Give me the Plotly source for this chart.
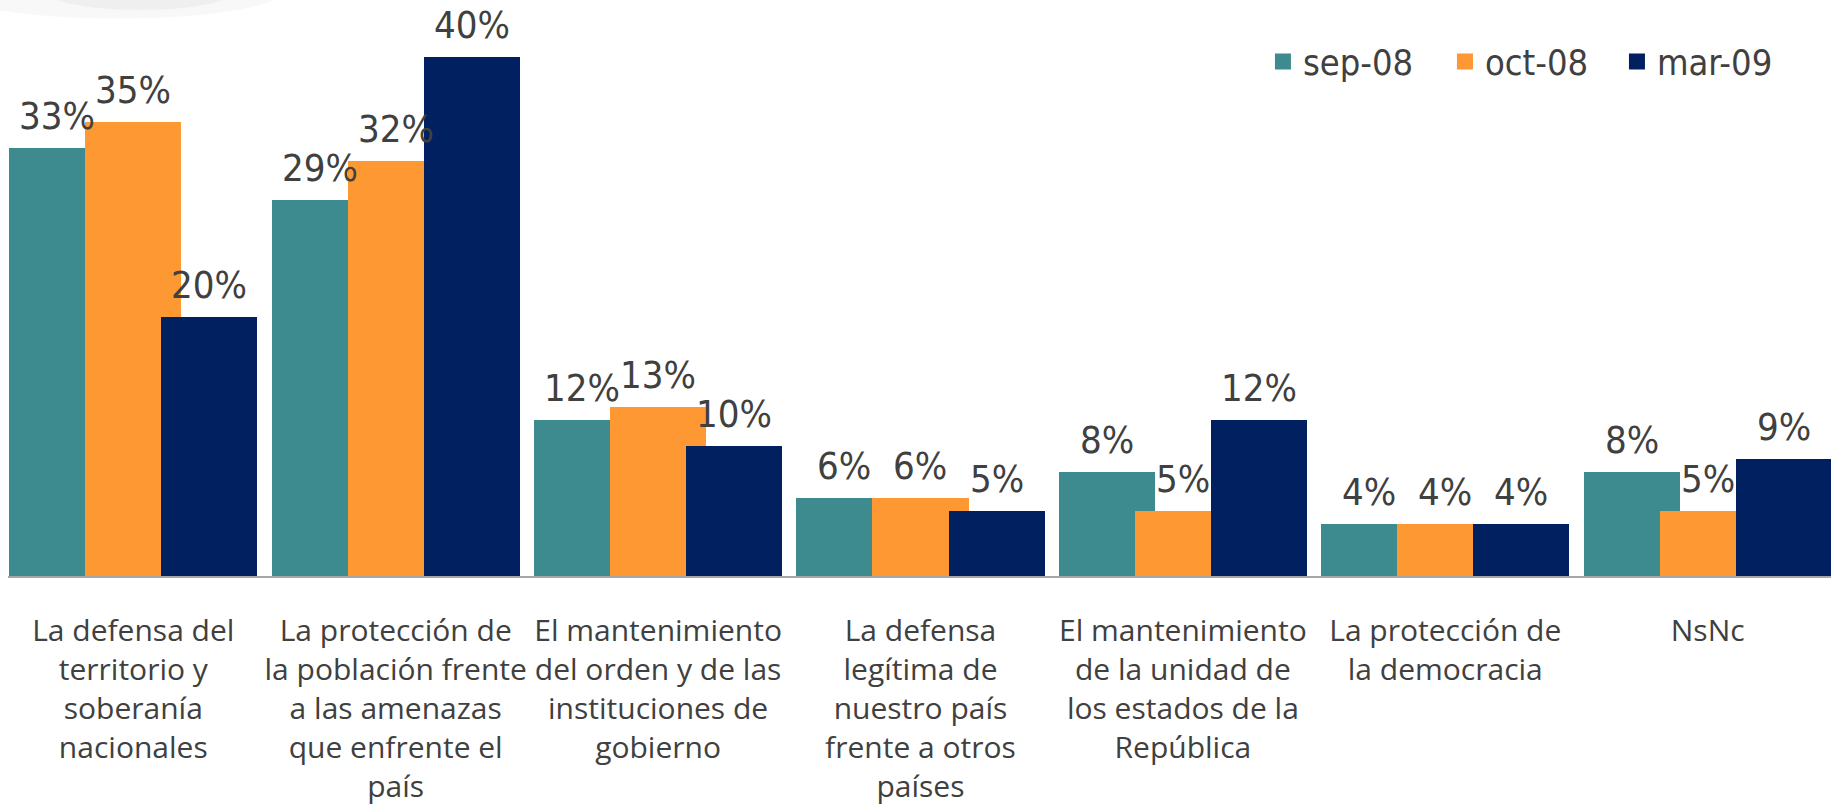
import plotly.graph_objects as go

categories = [
    "La defensa del<br>territorio y<br>soberanía<br>nacionales",
    "La protección de<br>la población frente<br>a las amenazas<br>que enfrente el<br>país",
    "El mantenimiento<br>del orden y de las<br>instituciones de<br>gobierno",
    "La defensa<br>legítima de<br>nuestro país<br>frente a otros<br>países",
    "El mantenimiento<br>de la unidad de<br>los estados de la<br>República",
    "La protección de<br>la democracia",
    "NsNc",
]
series_names = ["sep-08", "oct-08", "mar-09"]
sep08 = [33, 29, 12, 6, 8, 4, 8]
oct08 = [35, 32, 13, 6, 5, 4, 5]
mar09 = [20, 40, 10, 5, 12, 4, 9]

colors = ["#3D8B8F", "#FD9833", "#002060"]
bar_width = 0.366
offsets = [-0.473, -0.183, 0.107]
legend_widths = [137, 127, 130]

xs = list(range(len(categories)))
fig = go.Figure()
annotations = []
for name, vals, col, off, lw in zip(series_names, [sep08, oct08, mar09], colors, offsets, legend_widths):
    fig.add_trace(go.Bar(
        x=xs, y=vals, name=name, width=bar_width, offset=off,
        marker=dict(color=col, line=dict(width=0)),
        showlegend=False, hoverinfo="y",
    ))
    for xi, v in zip(xs, vals):
        annotations.append(dict(
            x=xi + off + bar_width / 2, y=v, xref="x", yref="y",
            text=f"{v}%", showarrow=False, yanchor="bottom", xanchor="center",
            yshift=8, font=dict(family="DejaVu Sans Condensed", size=38, color="#404040"),
        ))
    # legend entry
    fig.add_trace(go.Scatter(
        x=[None], y=[None], mode="markers", name=name,
        marker=dict(symbol="square", size=20, color=col),
        showlegend=True, legendwidth=lw,
    ))

# faint decorative swoosh at top-left
shapes = [
    dict(type="circle", xref="paper", yref="paper", x0=-0.03, x1=0.15, y0=0.985, y1=1.08,
         fillcolor="rgba(200,200,200,0.12)", line=dict(width=0), layer="below"),
    dict(type="circle", xref="paper", yref="paper", x0=0.02, x1=0.125, y0=1.0, y1=1.07,
         fillcolor="rgba(185,185,185,0.12)", line=dict(width=0), layer="below"),
]

fig.update_layout(
    width=1831, height=806,
    margin=dict(l=8, r=0, t=10, b=224),
    paper_bgcolor="white", plot_bgcolor="white",
    barmode="overlay",
    bargap=0,
    annotations=annotations,
    shapes=shapes,
    showlegend=True,
    legend=dict(
        orientation="h", x=0.6884, y=0.962, xanchor="left", yanchor="top",
        font=dict(family="DejaVu Sans Condensed", size=36, color="#404040"),
        bgcolor="rgba(0,0,0,0)", itemsizing="trace", tracegroupgap=0,
    ),
    xaxis=dict(
        range=[-0.4775, 6.47], tickvals=xs, ticktext=categories,
        showgrid=False, zeroline=False, showline=True, linecolor="#A6A6A6", linewidth=2,
        ticks="", tickfont=dict(family="Open Sans", size=30, color="#404040"),
        ticklabelstandoff=27,
    ),
    yaxis=dict(range=[0, 43.66], visible=False, showgrid=False, zeroline=False),
)

fig.write_html("out.html", config={"displayModeBar": False},
               post_script="document.body.style.margin='0';")
